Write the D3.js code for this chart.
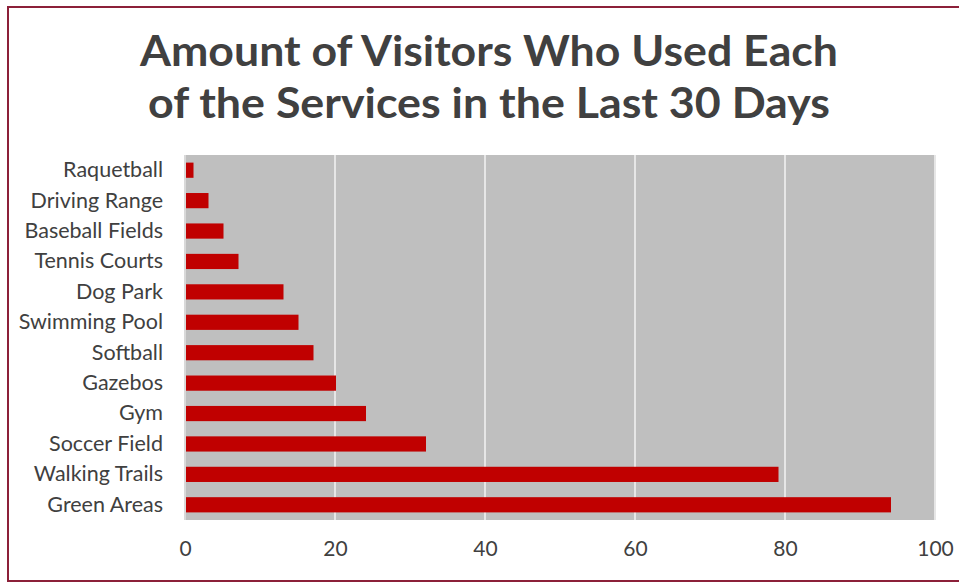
<!DOCTYPE html>
<html>
<head>
<meta charset="utf-8">
<script src="https://cdn.jsdelivr.net/npm/d3@7"></script>
<style>
  body { margin: 0; background: #fff; }
  svg { display: block; }
</style>
</head>
<body>
<div class="chart"></div>
<script>
// Datos
var servicios = ["Raquetball", "Driving Range", "Baseball Fields", "Tennis Courts", "Dog Park",
                 "Swimming Pool", "Softball", "Gazebos", "Gym", "Soccer Field",
                 "Walking Trails", "Green Areas"];
var visitantes = [1, 3, 5, 7, 13, 15, 17, 20, 24, 32, 79, 94];
var ticks = [0, 20, 40, 60, 80, 100];
var titulo = ["Amount of Visitors Who Used Each", "of the Services in the Last 30 Days"];

var width = 959, height = 582;
var margin = { top: 155, right: 24, bottom: 62, left: 185 };

var svg = d3.select(".chart").append("svg")
    .attr("width", width)
    .attr("height", height);

// Borde
svg.append("rect")
    .attr("x", 8).attr("y", 7)
    .attr("width", width + 10).attr("height", 574)
    .attr("fill", "none")
    .attr("stroke", "#8c2039")
    .attr("stroke-width", 2);

// Titulo (ancho ajustado al original)
var anchos = [698, 682];
svg.append("g").selectAll("text")
    .data(titulo)
    .enter().append("text")
    .attr("x", 489)
    .attr("y", function(d, i) { return 66 + i * 52; })
    .attr("text-anchor", "middle")
    .attr("font-family", "Lato, sans-serif")
    .attr("font-weight", "bold")
    .attr("font-size", 42)
    .attr("textLength", function(d, i) { return anchos[i]; })
    .attr("lengthAdjust", "spacingAndGlyphs")
    .attr("fill", "#404040")
    .text(function(d) { return d; });

var x = d3.scaleLinear().domain([0, 100]).range([margin.left, width - margin.right]);
var y = d3.scaleBand().domain(servicios)
    .range([margin.top, height - margin.bottom])
    .paddingInner(0.5).paddingOuter(0.25);

// Fondo del area
svg.append("rect")
    .attr("x", x(0)).attr("y", margin.top)
    .attr("width", x(100) - x(0)).attr("height", height - margin.bottom - margin.top)
    .attr("fill", "#bfbfbf");

// Lineas de cuadricula
svg.selectAll(".grid")
    .data(ticks.slice(1))
    .enter().append("line")
    .attr("x1", function(d) { return x(d); })
    .attr("x2", function(d) { return x(d); })
    .attr("y1", margin.top)
    .attr("y2", height - margin.bottom)
    .attr("stroke", "#e6e6e6")
    .attr("stroke-width", 2);

// Eje vertical
svg.append("line")
    .attr("x1", x(0)).attr("x2", x(0))
    .attr("y1", margin.top).attr("y2", height - margin.bottom)
    .attr("stroke", "#d9d9d9")
    .attr("stroke-width", 2);

// Barras
svg.selectAll(".bar")
    .data(servicios)
    .enter().append("rect")
    .attr("x", x(0) + 1)
    .attr("y", function(d) { return y(d); })
    .attr("width", function(d, i) { return x(visitantes[i]) - x(0); })
    .attr("height", y.bandwidth())
    .attr("fill", "#c00000");

// Etiquetas de categorias
var yAxis = svg.append("g")
    .attr("transform", "translate(" + (x(0) - 22) + ",0)")
    .call(d3.axisLeft(y).tickSize(0).tickPadding(0));
yAxis.select(".domain").remove();
yAxis.selectAll("text")
    .attr("font-family", "Lato, sans-serif")
    .attr("font-size", 21.5)
    .attr("fill", "#404040");

// Eje x
var xAxis = svg.append("g")
    .attr("transform", "translate(0," + (height - margin.bottom) + ")")
    .call(d3.axisBottom(x).tickValues(ticks).tickSize(0).tickPadding(21));
xAxis.select(".domain").remove();
xAxis.selectAll("text")
    .attr("font-family", "Lato, sans-serif")
    .attr("font-size", 21)
    .attr("fill", "#404040");
</script>
</body>
</html>
